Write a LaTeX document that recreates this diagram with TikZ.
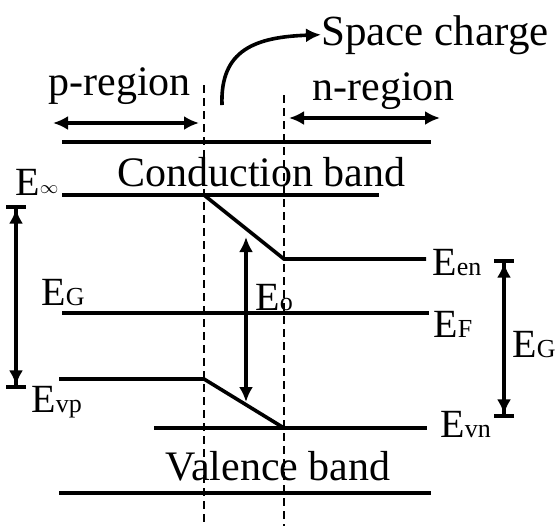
\documentclass[tikz,border=0pt]{standalone}
\usepackage{fontspec}
\setmainfont{Liberation Serif}
\usetikzlibrary{arrows.meta,calc,positioning}
\newcommand{\Elev}[1]{{\fontsize{20}{22}\selectfont E}{\fontsize{13}{14}\selectfont #1}}

\begin{document}
\begin{tikzpicture}[x=0.5pt,y=-0.5pt,
  band/.style={line width=1.8pt},
  junc/.style={line width=0.8pt,dash pattern=on 4pt off 2.5pt},
  tipL/.style={line width=1.8pt,{Latex[length=7.5pt,width=7pt]}-{Latex[length=7.5pt,width=7pt]}},
  tipB/.style={line width=1.8pt,{Bar[width=10pt]Latex[length=7.5pt,width=7pt]}-{Latex[length=7.5pt,width=7pt]Bar[width=10pt]}},
  lbl/.style={anchor=base west,inner sep=0pt,font=\fontsize{21}{24}\selectfont}]
  \useasboundingbox (0,0) rectangle (556,526);
  % junction borders
  \coordinate (JLt) at (204,85);  \coordinate (JLb) at (204,526);
  \coordinate (JRt) at (284,95);  \coordinate (JRb) at (284,526);
  \draw[junc] (JLt)--(JLb);
  \draw[junc] (JRt)--(JRb);
  % band edges
  \coordinate (CBl) at (62,142);  \coordinate (CBr) at (431,142);
  \coordinate (VBl) at (59,493);  \coordinate (VBr) at (431,493);
  \draw[band] (CBl)--(CBr);
  \draw[band] (VBl)--(VBr);
  \coordinate (Ecl) at (62,195);  \coordinate (Ecr) at (379,195);
  \coordinate (Eck) at (204,195); \coordinate (Ecn) at (284,259);
  \coordinate (Ene) at (426,259);
  \draw[band] (Ecl)--(Ecr);
  \draw[band] (Eck)--(Ecn)--(Ene);
  \coordinate (EFl) at (62,313);  \coordinate (EFr) at (429,313);
  \draw[band] (EFl)--(EFr);
  \coordinate (Evl) at (59,379);  \coordinate (Evk) at (204,379);
  \coordinate (Evn) at (284,428); \coordinate (Vnl) at (154,428);
  \coordinate (Vnr) at (427,428);
  \draw[band] (Evl)--(Evk)--(Evn);
  \draw[band] (Vnl)--(Vnr);
  % region arrows
  \coordinate (pA) at (53,123);   \coordinate (pB) at (199,123);
  \coordinate (nA) at (289,118);  \coordinate (nB) at (440,118);
  \draw[tipL] (pA)--(pB);
  \draw[tipL] (nA)--(nB);
  % gap arrows
  \coordinate (GLt) at (16,205);  \coordinate (GLb) at (16,389);
  \coordinate (Eot) at (246,237); \coordinate (Eob) at (246,402);
  \coordinate (GRt) at (504,259); \coordinate (GRb) at (504,418);
  \draw[tipB] (GLt)--(GLb);
  \draw[tipL] (Eot)--(Eob);
  \draw[tipB] (GRt)--(GRb);
  % labels
  \node[lbl] (sc) at (321,45) {\fontsize{21.5}{24}\selectfont Space charge};
  \node[lbl] (preg) at (48,95) {p-region};
  \node[lbl] (nreg) at (312,100) {n-region};
  \node[lbl] (cb) at (117,186) {Conduction band};
  \node[lbl] (vb) at (165,480) {Valence band};
  \node[lbl] (einf) at (15,195) {{\fontsize{20}{22}\selectfont E}\raisebox{1pt}{\fontsize{9}{9}\selectfont$\infty$}};
  \node[lbl] (egl) at (41,305) {\Elev{G}};
  \node[lbl] (eo) at (255,310) {\Elev{o}};
  \node[lbl] (een) at (432,275) {\Elev{en}};
  \node[lbl] (ef) at (433,337) {\Elev{F}};
  \node[lbl] (egr) at (512,357) {\Elev{G}};
  \node[lbl] (evp) at (31,412) {\Elev{vp}};
  \node[lbl] (evn) at (440,437) {\Elev{vn}};
  \coordinate (SCs) at (222,105);
  \draw[line width=1.8pt,-{Latex[length=7.5pt,width=7pt]}] (SCs) .. controls (220,50) and (255,37) .. (sc.west);
\end{tikzpicture}
\end{document}
